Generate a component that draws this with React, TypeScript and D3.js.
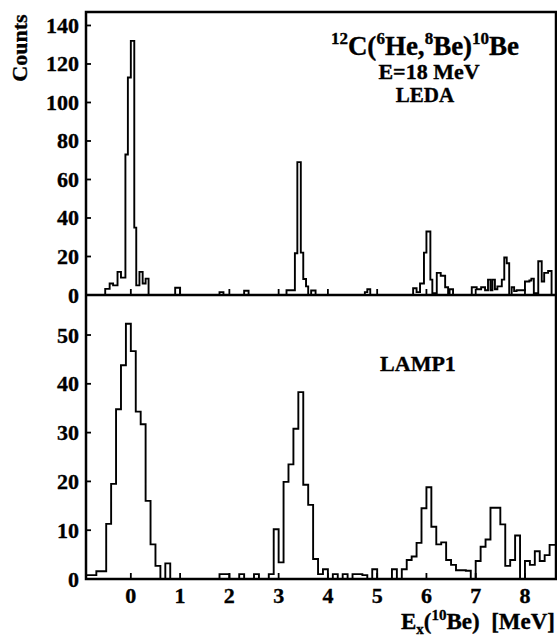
import React, { useRef, useEffect } from 'react';
import * as d3 from 'd3';

// LEDA spectrum (top): step edges in MeV and counts between consecutive edges
const topEdges = [
  -0.91, -0.52, -0.43, -0.36, -0.27, -0.2, -0.11, -0.06, 0.0, 0.07, 0.11, 0.175, 0.24, 0.3, 0.36,
  0.9, 1.0, 1.8, 1.88, 2.3, 2.39, 3.16, 3.33, 3.38, 3.45, 3.5, 3.556, 3.6, 3.66, 3.75,
  4.75, 4.8, 4.86, 5.73, 5.8, 5.87, 5.95, 6.0, 6.08, 6.12, 6.21, 6.29, 6.38, 6.44, 6.47, 6.54,
  6.92, 7.02, 7.11, 7.19, 7.25, 7.3, 7.34, 7.39, 7.44, 7.53, 7.58, 7.63, 7.68, 7.73, 7.78, 7.83,
  8.0, 8.09, 8.13, 8.18, 8.27, 8.34, 8.39, 8.47, 8.54, 8.63,
];
const topCounts = [
  0, 3.2, 6, 5, 12, 9, 73, 113, 132, 35, 5, 12, 6, 8.5,
  0, 3.8, 0, 1.5, 0, 2.2, 0, 2.5, 21.7, 69, 22, 8.3, 4.5, 0, 2.3,
  0, 1.5, 3, 0, 3.5, 1.5, 6, 22, 33, 8, 1, 11.5, 10, 4, 0, 3,
  0, 4, 3, 4, 2.5, 8, 2.5, 8, 3, 4.5, 8, 19.5, 16.5, 0, 4, 2,
  2.5, 7, 7.5, 8.5, 1, 17.5, 7, 11.5, 12.5, 0,
];

// LAMP1 spectrum (bottom): 0.1 MeV bins starting at -0.9 MeV
const bottomStart = -0.9;
const bottomWidth = 0.1;
const bottomCounts = [
  0.8, 0.8, 1.6, 1.6, 11.3, 19.5, 34.8, 43.8, 52.3, 46.7,
  34.3, 31.7, 16, 7.1, 2.7, 0, 3.2, 0, 0, 0,
  0, 0, 0, 0, 0, 0, 0, 1, 1, 0,
  0, 1, 0, 0, 1, 0, 0, 1, 10.2, 3.4,
  19.9, 23.5, 30.8, 38.3, 19.3, 15.2, 4.1, 1, 2, 0,
  1, 0, 1, 0, 1, 1, 0.8, 0, 2, 0,
  0, 0, 2, 0, 2, 3.9, 4.6, 7.4, 14.5, 18.8,
  10.7, 7.1, 7.5, 3.9, 2.9, 1.8, 1.8, 1.7, 0, 3.7,
  6.6, 8.1, 14.6, 14.6, 11.2, 2.7, 3.9, 8.9, 0, 3.7,
  2.9, 5.7, 3.7, 4.9, 7.0, 7.0,
];

const xTicks = [0, 1, 2, 3, 4, 5, 6, 7, 8];
const topYTicks = [0, 20, 40, 60, 80, 100, 120, 140];
const bottomYTicks = [0, 10, 20, 30, 40, 50];

const App: React.FC = () => {
  const svgRef = useRef<SVGSVGElement>(null);

  useEffect(() => {
    if (!svgRef.current) return;
    const svg = d3.select(svgRef.current);
    svg.selectAll('*').remove();

    const left = 86, right = 556, top = 12, mid = 295, bottom = 579;
    const font = "'Liberation Serif', 'Times New Roman', serif";

    const x = d3.scaleLinear().domain([-0.91, 8.63]).range([left, right]);
    const yTop = d3.scaleLinear().domain([0, 147]).range([mid, top]);
    const yBot = d3.scaleLinear().domain([0, 58.2]).range([bottom, mid]);

    svg.append('clipPath').attr('id', 'clip')
      .append('rect').attr('x', left).attr('y', top)
      .attr('width', right - left).attr('height', bottom - top);

    const stepLine = (ys: d3.ScaleLinear<number, number>) =>
      d3.line<[number, number]>()
        .x(d => x(Math.max(d[0], -0.91)))
        .y(d => ys(d[1]))
        .curve(d3.curveStepAfter);

    const topPts: [number, number][] = topCounts.map((c, i) => [topEdges[i], c]);
    topPts.push([topEdges[topEdges.length - 1], topCounts[topCounts.length - 1]]);

    const botPts: [number, number][] = bottomCounts.map((c, i) => [bottomStart + i * bottomWidth, c]);
    botPts.push([8.63, bottomCounts[bottomCounts.length - 1]]);

    const plot = svg.append('g').attr('clip-path', 'url(#clip)');
    plot.append('path').attr('d', stepLine(yTop)(topPts))
      .attr('fill', 'none').attr('stroke', '#000').attr('stroke-width', 1.9);
    plot.append('path').attr('d', stepLine(yBot)(botPts))
      .attr('fill', 'none').attr('stroke', '#000').attr('stroke-width', 1.9);

    // frames
    svg.append('rect').attr('x', left).attr('y', top)
      .attr('width', right - left).attr('height', bottom - top)
      .attr('fill', 'none').attr('stroke', '#000').attr('stroke-width', 2.5);
    svg.append('line').attr('x1', left).attr('x2', right).attr('y1', mid).attr('y2', mid)
      .attr('stroke', '#000').attr('stroke-width', 2.5);

    // x ticks (inward, both panels)
    [mid, bottom].forEach(base => {
      svg.append('g').selectAll('line').data(xTicks).enter().append('line')
        .attr('x1', d => x(d)).attr('x2', d => x(d))
        .attr('y1', base).attr('y2', base - 6)
        .attr('stroke', '#000').attr('stroke-width', 1.8);
    });

    // y ticks
    svg.append('g').selectAll('line').data(topYTicks).enter().append('line')
      .attr('x1', left).attr('x2', left + 5)
      .attr('y1', d => yTop(d)).attr('y2', d => yTop(d))
      .attr('stroke', '#000').attr('stroke-width', 1.8);
    svg.append('g').selectAll('line').data(bottomYTicks).enter().append('line')
      .attr('x1', left).attr('x2', left + 5)
      .attr('y1', d => yBot(d)).attr('y2', d => yBot(d))
      .attr('stroke', '#000').attr('stroke-width', 1.8);

    const label = svg.append('g').attr('font-family', font).attr('font-weight', 'bold')
      .attr('fill', '#000').attr('stroke', '#000').attr('stroke-width', 0.35);

    label.selectAll('.yt').data(topYTicks).enter().append('text')
      .attr('x', 79).attr('y', d => yTop(d) + 7.5)
      .attr('text-anchor', 'end').attr('font-size', 22).text(d => d);
    label.selectAll('.yb').data(bottomYTicks).enter().append('text')
      .attr('x', 79).attr('y', d => yBot(d) + 7.5)
      .attr('text-anchor', 'end').attr('font-size', 22).text(d => d);
    label.selectAll('.xt').data(xTicks).enter().append('text')
      .attr('x', d => x(d)).attr('y', 603)
      .attr('text-anchor', 'middle').attr('font-size', 22).text(d => d);

    label.append('text')
      .attr('transform', 'translate(27,48) rotate(-90)')
      .attr('text-anchor', 'middle').attr('font-size', 22).text('Counts');

    // reaction title
    const title = label.append('text').attr('x', 425).attr('y', 55)
      .attr('text-anchor', 'middle').attr('font-size', 27);
    const parts: [string, boolean][] = [
      ['12', true], ['C(', false], ['6', true], ['He,', false], ['8', true], ['Be)', false], ['10', true], ['Be', false],
    ];
    parts.forEach(([t, sup], i) => {
      const prevSup = i > 0 && parts[i - 1][1];
      title.append('tspan')
        .attr('font-size', sup ? 17 : 27)
        .attr('dy', sup ? -11 : prevSup ? 11 : 0)
        .text(t);
    });

    label.append('text').attr('x', 429).attr('y', 79)
      .attr('text-anchor', 'middle').attr('font-size', 22).text('E=18 MeV');
    label.append('text').attr('x', 425).attr('y', 102)
      .attr('text-anchor', 'middle').attr('font-size', 21).text('LEDA');
    label.append('text').attr('x', 418).attr('y', 371)
      .attr('text-anchor', 'middle').attr('font-size', 22).text('LAMP1');

    // x axis title
    const xt = label.append('text').attr('x', 555).attr('y', 629)
      .attr('text-anchor', 'end').attr('font-size', 23);
    xt.append('tspan').text('E');
    xt.append('tspan').attr('font-size', 15).attr('dy', 5).text('x');
    xt.append('tspan').attr('dy', -5).text('(');
    xt.append('tspan').attr('font-size', 15).attr('dy', -9).text('10');
    xt.append('tspan').attr('dy', 9).text('Be)\u00a0\u00a0[MeV]');
  }, []);

  return (
    <svg ref={svgRef} width={557} height={637}
      style={{ position: 'absolute', left: 0, top: 0, background: '#fff' }} />
  );
};

export default App;
